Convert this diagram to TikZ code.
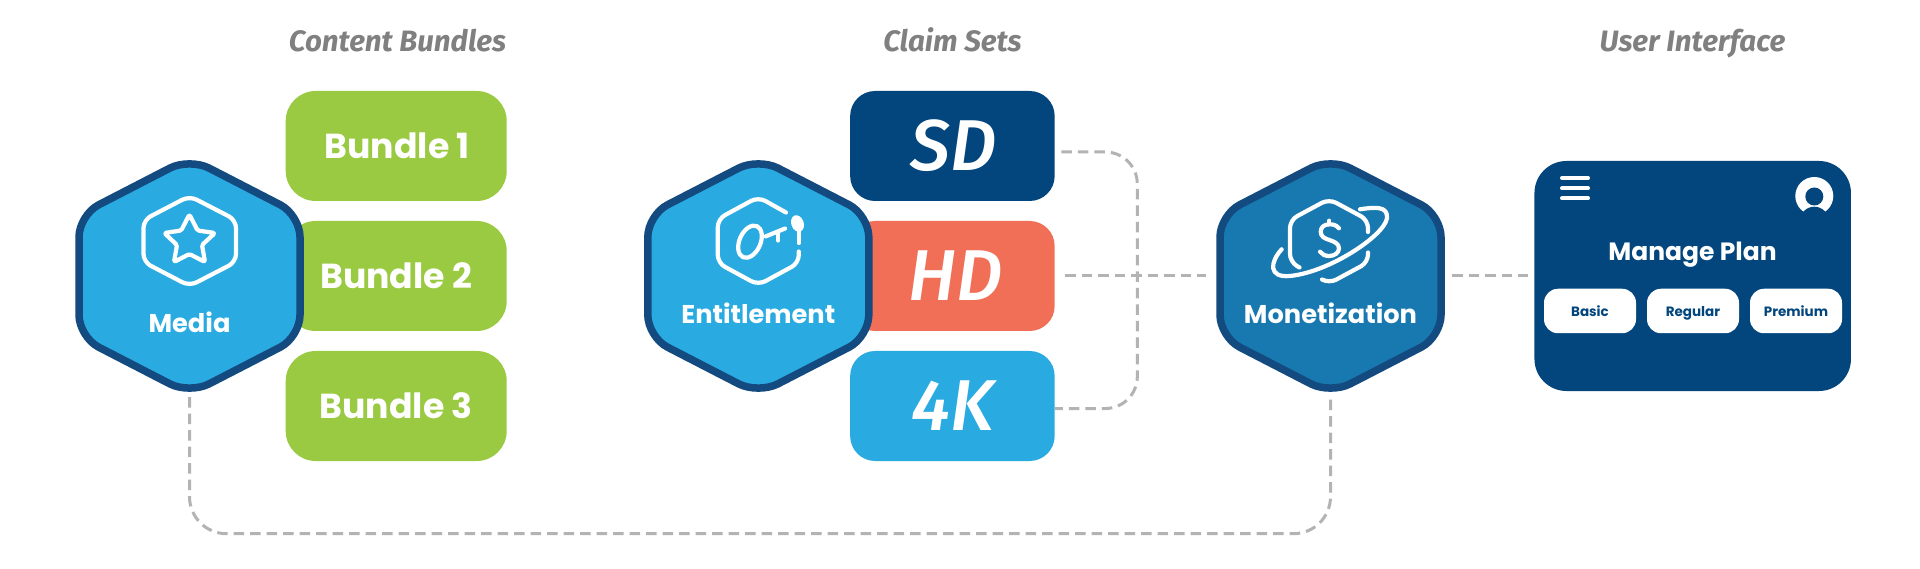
\documentclass[tikz,border=0pt]{standalone}
\usepackage{fontspec}
\setmainfont{Fira Sans}
\newfontface\firamed{Fira Sans Medium Italic}
\newfontfamily\popfont{Poppins}
\definecolor{leaf}{HTML}{9ACA42}
\definecolor{navy}{HTML}{02467D}
\definecolor{coral}{HTML}{F26F57}
\definecolor{sky}{HTML}{29ABE2}
\definecolor{ocean}{HTML}{1878B0}
\definecolor{rim}{HTML}{134A7F}
\definecolor{dashgray}{HTML}{B3B3B3}
\definecolor{titlegray}{HTML}{808080}
\tikzset{
  x=1pt,y=-1pt,
  dashline/.style={draw=dashgray,line width=3pt,dash pattern=on 10.5pt off 6pt},
  hexshape/.style={draw=rim,line width=7.5pt,rounded corners=22pt,line join=round},
  iconline/.style={draw=white,line width=4.2pt,line cap=round,line join=round},
  roundicon/.style={iconline,rounded corners=8pt},
  titletext/.style={anchor=base,inner sep=0pt,text=titlegray,font=\fontsize{29.5}{32}\selectfont\bfseries\itshape},
  bundlebox/.style={fill=leaf,rounded corners=30pt,minimum width=221pt,minimum height=110pt,inner sep=0pt,text=white,font=\popfont\fontsize{34.7}{38}\selectfont\bfseries},
  claimbox/.style={rounded corners=25pt,minimum width=204.5pt,minimum height=110pt,inner sep=0pt,text=white,font=\firamed\fontsize{72}{76}\selectfont},
  hextext/.style={anchor=base,inner sep=0pt,text=white,font=\popfont\fontsize{25.7}{28}\selectfont\bfseries},
  planbtn/.style={fill=white,rounded corners=14pt,minimum width=92pt,minimum height=44.5pt,inner sep=0pt,text height=11pt,text depth=0pt,text=navy,font=\popfont\fontsize{13.5}{15}\selectfont\bfseries},
}
\newcommand{\hexat}[3]{%
  \path[hexshape,fill=#3] (#1-110.5,#2-61) -- (#1,#2-118) -- (#1+110.5,#2-61) -- (#1+110.5,#2+61) -- (#1,#2+118) -- (#1-110.5,#2+61) -- cycle;}
\begin{document}
\begin{tikzpicture}
\useasboundingbox[fill=white] (0,0) rectangle (1920,569);

% titles
\node[titletext] (t1) at (397.5,52) {Content Bundles};
\node[titletext] (t2) at (952.5,52) {Claim Sets};
\node[titletext] (t3) at (1692.5,52) {User Interface};

% anchor points
\coordinate (mediaBot) at (189.5,397);
\coordinate (monBot) at (1330.5,397);
\coordinate (monLeft) at (1206,276);
\coordinate (monRight) at (1452,276);
\coordinate (panelLeft) at (1528,276);

% rounded boxes
\node[bundlebox] (b1) at (396.2,146) {\hspace*{2pt}Bundle 1};
\node[bundlebox] (b2) at (396.2,276) {Bundle 2};
\node[bundlebox] (b3) at (396.2,406) {Bundle 3};
\node[claimbox,fill=navy] (sd) at (952.4,146) {\hspace*{3pt}SD};
\node[claimbox,fill=coral] (hd) at (952.4,276) {\hspace*{6pt}HD};
\node[claimbox,fill=sky] (fk) at (952.4,406) {4K};

% connectors
\draw[dashline,rounded corners=32pt,shorten <=6.5pt] (sd.east |- 0,152) coordinate (sdOut) -- (1137.3,152) -- (1137.3,408.5) -- (fk.east |- 0,408.5) coordinate (fkOut);
\draw[dashline,shorten <=10.5pt] (hd.east) -- (monLeft);
\draw[dashline] (monRight) -- (panelLeft);
\draw[dashline,rounded corners=37pt] (mediaBot) -- (189.5,533.7) -- (1330.5,533.7) -- (monBot);

% hexagons
\hexat{189.5}{276}{sky}
\hexat{758.3}{276}{sky}
\hexat{1330.5}{276}{ocean}
\node[hextext] (media) at (189.5,333) {Media};
\node[hextext] (ent) at (758.3,324) {Entitlement};
\node[hextext] (mon) at (1330.5,324) {Monetization};

% star icon
\draw[roundicon] (189.5,196) -- (236,220) -- (236,262) -- (189.5,286) -- (143.5,262) -- (143.5,220) -- cycle;
\draw[iconline,rounded corners=1.5pt,fill=none] (189.4,214.5) -- (197.6,230.5) -- (215,233) -- (202,245) -- (205,262) -- (189.4,254) -- (174,262) -- (177,245) -- (164.3,233) -- (181.2,230.5) -- cycle;

% key icon
\draw[roundicon] (786,212.5) -- (758.3,197) -- (717.8,219) -- (717.8,263) -- (758.3,285) -- (798.8,263) -- (798.8,251.5);
\draw[iconline,rotate around={-24:(750,241.7)}] (750,241.7) ellipse [x radius=10.5,y radius=17];
\draw[iconline] (765.5,236.5) -- (785,228.5);
\draw[iconline] (778.3,233) -- (778.3,240.5);
\fill[white,rotate around={20:(797.5,223.5)}] (797.5,223.5) ellipse [x radius=6.2,y radius=8.5];
\draw[iconline] (798.8,228) -- (798.8,243);

% money icon
\draw[roundicon] (1299.5,267.5) -- (1290,262) -- (1290,220) -- (1329,199) -- (1368,220) -- (1368,232);
\draw[roundicon] (1368,252.5) -- (1368,262.5) -- (1329,283.5) -- (1322,279.5);
\draw[iconline] (1281.7,249.3) .. controls (1270,262) and (1268,278) .. (1290,276) .. controls (1330,272) and (1385,235) .. (1387,218) .. controls (1388,206) and (1375,207) .. (1360,209.3);
\draw[iconline] (1339,228.3) .. controls (1336,224.5) and (1332,224.3) .. (1329.3,224.3) .. controls (1324,224.3) and (1320.7,227.5) .. (1320.7,231.7) .. controls (1320.7,237) and (1325,238.5) .. (1329.3,240) .. controls (1334,241.5) and (1339,243.5) .. (1339,248.3) .. controls (1339,253) and (1334,256) .. (1329.3,256) .. controls (1325,256) and (1322,254.5) .. (1320,251.7);
\draw[iconline] (1329.3,220.7) -- (1329.3,224.3);

% panel
\node[fill=navy,rounded corners=32pt,minimum width=316.5pt,minimum height=230pt,inner sep=0pt] (panel) at (1692.7,276) {};
\draw[draw=white,line width=4pt,line cap=round] (1562,178) -- (1588,178) (1562,188.3) -- (1588,188.3) (1562,198.3) -- (1588,198.3);
\fill[white] (1814.3,196) circle [radius=19];
\fill[navy] (1814.3,196.5) circle [radius=9];
\fill[navy] (1814.3,221.2) circle [radius=14.5];
\node[anchor=base,inner sep=0pt,text=white,font=\popfont\fontsize{25}{27}\selectfont\bfseries] (plan) at (1692.5,261) {Manage Plan};
\node[planbtn] (basic) at (1590,311) {Basic};
\node[planbtn] (regular) at (1693,311) {Regular};
\node[planbtn] (premium) at (1796,311) {Premium};
\end{tikzpicture}
\end{document}
